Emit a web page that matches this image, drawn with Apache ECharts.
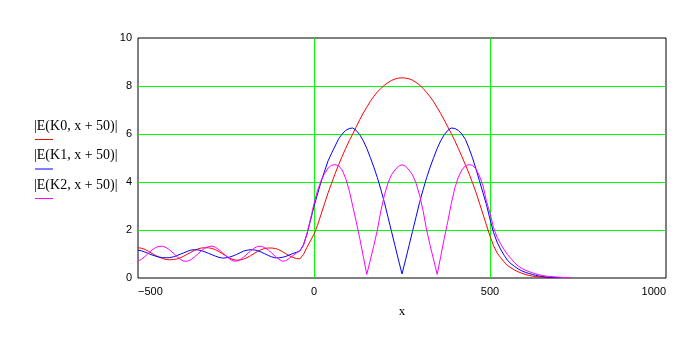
<!DOCTYPE html>
<html>
<head>
<meta charset="utf-8">
<script src="https://cdn.jsdelivr.net/npm/echarts@6/dist/echarts.min.js"></script>
<style>html,body{margin:0;padding:0;background:#fff;}#c{width:700px;height:350px;}</style>
</head>
<body>
<div id="c"></div>
<script>
var xs = [-500,-490,-480,-470,-460,-450,-440,-430,-420,-410,-400,-390,-380,-370,-360,-350,-340,-330,-320,-310,
-300,-290,-280,-270,-260,-250,-240,-230,-220,-210,-200,-190,-180,-170,-160,-150,-140,-130,-120,-110,
-100,-90,-80,-70,-60,-50,-40,-30,-20,-10,0,10,20,30,40,50,60,70,80,90,
100,110,120,130,140,150,160,170,180,190,200,210,220,230,240,250,260,270,280,290,
300,310,320,330,340,350,360,370,380,390,400,410,420,430,440,450,460,470,480,490,
500,510,520,530,540,550,560,570,580,590,600,610,620,630,640,650,660,670,680,690,
700,710,720,730];

var k0 = [1.26,1.24,1.19,1.11,1.02,0.94,0.87,0.81,0.77,0.76,0.77,0.79,0.84,0.91,0.99,1.07,1.15,1.21,1.25,1.26,
1.26,1.23,1.18,1.10,1.01,0.92,0.83,0.77,0.74,0.75,0.79,0.85,0.93,1.02,1.11,1.18,1.23,1.25,1.25,1.23,
1.18,1.10,1.01,0.93,0.86,0.81,0.80,0.98,1.28,1.55,1.82,2.20,2.65,3.10,3.55,3.95,4.35,4.72,5.07,5.40,
5.72,6.00,6.30,6.60,6.87,7.12,7.36,7.57,7.75,7.90,8.03,8.14,8.23,8.29,8.33,8.34,8.33,8.30,8.24,8.15,
8.04,7.90,7.73,7.55,7.34,7.10,6.85,6.58,6.30,6.02,5.72,5.40,5.07,4.72,4.37,3.98,3.58,3.12,2.66,2.20,
1.75,1.35,1.05,0.85,0.67,0.52,0.42,0.33,0.26,0.20,0.15,0.11,0.08,0.06,0.04,0.03,0.02,0.01,0.01];

var k1 = [1.16,1.13,1.08,1.02,0.96,0.91,0.87,0.85,0.84,0.85,0.88,0.93,0.99,1.05,1.11,1.16,1.18,1.17,1.14,1.09,
1.03,0.97,0.91,0.86,0.83,0.84,0.87,0.92,0.98,1.05,1.12,1.16,1.18,1.17,1.14,1.08,1.01,0.94,0.88,0.84,
0.84,0.86,0.90,0.96,1.02,1.07,1.13,1.38,1.83,2.40,2.98,3.50,4.00,4.45,4.88,5.20,5.50,5.80,6.00,6.15,
6.23,6.25,6.15,5.97,5.72,5.40,5.02,4.62,4.18,3.68,3.15,2.55,1.95,1.35,0.75,0.17,0.75,1.35,1.95,2.55,
3.15,3.68,4.18,4.62,5.02,5.40,5.72,5.97,6.15,6.25,6.23,6.15,6.00,5.78,5.42,5.02,4.55,4.05,3.55,3.05,
2.45,1.90,1.50,1.20,0.95,0.73,0.59,0.48,0.38,0.30,0.24,0.19,0.15,0.11,0.08,0.06,0.04,0.03,0.02,0.01,
0.01];

var k2 = [0.71,0.78,0.90,1.04,1.17,1.27,1.32,1.32,1.27,1.17,1.04,0.90,0.78,0.70,0.70,0.76,0.87,1.00,1.13,1.25,
1.31,1.33,1.28,1.18,1.05,0.92,0.79,0.71,0.70,0.76,0.87,1.00,1.13,1.24,1.32,1.32,1.27,1.17,1.04,0.90,
0.78,0.70,0.72,0.82,0.93,1.04,1.13,1.35,1.85,2.45,3.10,3.65,4.05,4.35,4.58,4.70,4.72,4.68,4.50,4.15,
3.65,3.00,2.35,1.65,0.90,0.15,0.75,1.35,2.00,2.80,3.45,3.95,4.30,4.50,4.66,4.72,4.66,4.50,4.30,3.95,
3.45,2.80,2.00,1.35,0.75,0.15,0.90,1.65,2.35,3.10,3.75,4.20,4.50,4.68,4.72,4.70,4.55,4.25,3.85,3.20,
2.70,2.10,1.70,1.43,1.18,0.97,0.80,0.64,0.50,0.40,0.33,0.27,0.22,0.17,0.13,0.10,0.08,0.06,0.05,0.04,
0.03,0.02,0.01,0.01];

var seriesNames = ['|E(K0, x + 50)|', '|E(K1, x + 50)|', '|E(K2, x + 50)|'];
var seriesColors = ['#ff0000', '#0000ff', '#ff00ff'];
var xTicks = [-500, 0, 500, 1000];
var yTicks = [0, 2, 4, 6, 8, 10];

function pairs(vals) {
  var out = [];
  for (var i = 0; i < vals.length; i++) out.push([xs[i], vals[i]]);
  return out;
}

var chart = echarts.init(document.getElementById('c'), null, {renderer: 'canvas'});
var allVals = [k0, k1, k2];
var series = allVals.map(function (v, i) {
  return {
    name: seriesNames[i], type: 'line', data: pairs(v), showSymbol: false, smooth: false,
    lineStyle: {color: seriesColors[i], width: 1}, itemStyle: {color: seriesColors[i]},
    animation: false, clip: true
  };
});

var graphics = [];
seriesNames.forEach(function (n, i) {
  var top = 119 + i * 29.5;
  graphics.push({type: 'text', left: 34, top: top,
    style: {text: n, font: '14px "Liberation Serif"', fill: '#000'}});
  graphics.push({type: 'line', shape: {x1: 35, y1: top + 20.5, x2: 53, y2: top + 20.5},
    style: {stroke: seriesColors[i], lineWidth: 1}});
});

chart.setOption({
  backgroundColor: '#fff',
  animation: false,
  grid: {left: 138, top: 38, width: 528, height: 240, show: true, borderColor: '#000', borderWidth: 1, backgroundColor: 'transparent'},
  xAxis: {
    type: 'value', min: xTicks[0], max: xTicks[xTicks.length - 1], interval: 500,
    name: 'x', nameLocation: 'middle', nameGap: 27,
    nameTextStyle: {fontFamily: 'Liberation Serif', fontSize: 13, color: '#000'},
    axisLine: {show: false}, axisTick: {show: false},
    axisLabel: {color: '#000', fontFamily: 'Liberation Sans', fontSize: 11, margin: 8,
      alignMinLabel: 'left', alignMaxLabel: 'right',
      formatter: function (v) { return v < 0 ? '\u2212' + (-v) : String(v); }},
    splitLine: {show: true, showMinLine: false, showMaxLine: false, lineStyle: {color: '#00ff00', width: 1}}
  },
  yAxis: {
    type: 'value', min: yTicks[0], max: yTicks[yTicks.length - 1], interval: 2,
    axisLine: {show: false, onZero: false}, axisTick: {show: false},
    axisLabel: {color: '#000', fontFamily: 'Liberation Sans', fontSize: 11, margin: 6},
    splitLine: {show: true, showMinLine: false, showMaxLine: false, lineStyle: {color: '#00ff00', width: 1}}
  },
  graphic: graphics,
  series: series
});
</script>
</body>
</html>
